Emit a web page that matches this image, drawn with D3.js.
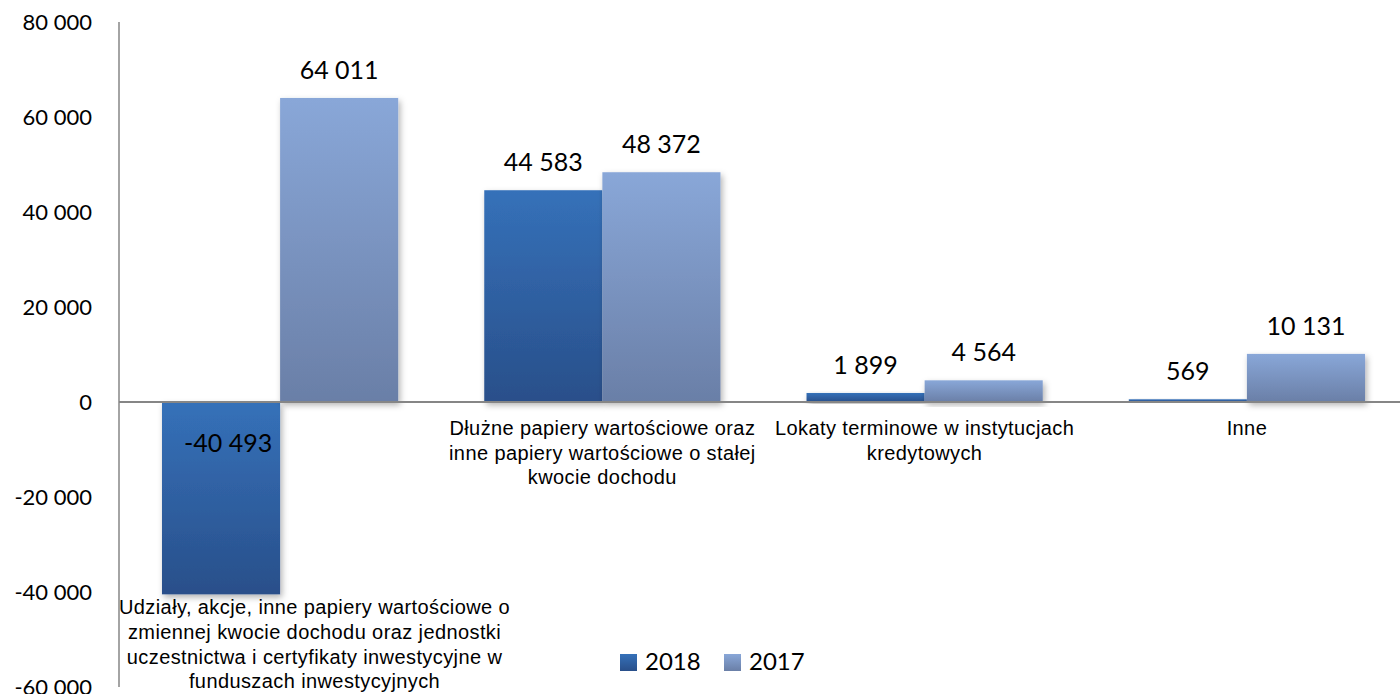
<!DOCTYPE html>
<html>
<head>
<meta charset="utf-8">
<script src="https://cdn.jsdelivr.net/npm/d3@7"></script>
<style>
  html, body { margin: 0; padding: 0; background: #fff; }
  svg { display: block; }
</style>
</head>
<body>
<svg id="chart"></svg>
<script>
/* ------------------ data ------------------ */

const categories = [
  "Udziały, akcje, inne papiery wartościowe o\nzmiennej kwocie dochodu oraz jednostki\nuczestnictwa i certyfikaty inwestycyjne w\nfunduszach inwestycyjnych",
  "Dłużne papiery wartościowe oraz\ninne papiery wartościowe o stałej\nkwocie dochodu",
  "Lokaty terminowe w instytucjach\nkredytowych",
  "Inne"
];
const series = ["2018", "2017"];
const values2018 = [-40493, 44583, 1899, 569];
const values2017 = [64011, 48372, 4564, 10131];
const yTicks = [-60000, -40000, -20000, 0, 20000, 40000, 60000, 80000];

/* ------------------ constants ------------------ */

const WIDTH = 1400;
const HEIGHT = 694;
const AXIS_X = 119;
const PLOT = { top: 22, bottom: 687, right: 1408 };
const COLORS = {
  "2018": ["#3571b9", "#294f8a"],
  "2017": ["#89a7d8", "#6a7fa7"]
};

const locale = d3.formatLocale({
  decimal: ",", thousands: " ", grouping: [3], currency: ["", ""], minus: "-"
});
const fmt = locale.format(",d");

/* ------------------ render ------------------ */

const svg = d3.select("#chart").attr("width", WIDTH).attr("height", HEIGHT);
const defs = svg.append("defs");

series.forEach(s => {
  const g = defs.append("linearGradient")
    .attr("id", "grad" + s)
    .attr("x1", 0).attr("y1", 0).attr("x2", 0).attr("y2", 1);
  g.append("stop").attr("offset", "0%").attr("stop-color", COLORS[s][0]);
  g.append("stop").attr("offset", "100%").attr("stop-color", COLORS[s][1]);
});

defs.append("filter").attr("id", "shadow")
  .attr("x", "-20%").attr("y", "-20%").attr("width", "140%").attr("height", "140%")
  .append("feDropShadow")
  .attr("dx", 2).attr("dy", 3).attr("stdDeviation", 3)
  .attr("flood-color", "#000").attr("flood-opacity", 0.3);

const x = d3.scaleBand()
  .domain(d3.range(categories.length))
  .range([AXIS_X, PLOT.right])
  .paddingInner(0.267)
  .paddingOuter(0.1334);

const xSub = d3.scaleBand()
  .domain(series)
  .range([0, x.bandwidth()]);

const y = d3.scaleLinear()
  .domain([-60000, 80000])
  .range([PLOT.bottom, PLOT.top]);

const rows = categories.map((c, i) => ({
  i, name: c,
  vals: [
    { s: "2018", v: values2018[i] },
    { s: "2017", v: values2017[i] }
  ]
}));

// y axis labels
const yAxis = svg.append("g")
  .attr("transform", `translate(${AXIS_X},0)`)
  .call(d3.axisLeft(y).tickValues(yTicks).tickSize(0).tickPadding(27).tickFormat(fmt));
yAxis.select(".domain").remove();
yAxis.selectAll("text")
  .attr("fill", "#000")
  .style("font-family", "Lato, 'Open Sans', sans-serif")
  .style("font-size", "22px");

// bars
const groups = svg.append("g").selectAll("g")
  .data(rows)
  .join("g")
  .attr("transform", d => `translate(${x(d.i)},0)`);

groups.selectAll("rect")
  .data(d => d.vals)
  .join("rect")
  .attr("x", d => xSub(d.s))
  .attr("y", d => y(Math.max(0, d.v)))
  .attr("width", xSub.bandwidth())
  .attr("height", d => Math.abs(y(d.v) - y(0)))
  .attr("fill", d => `url(#grad${d.s})`)
  .attr("filter", "url(#shadow)");

// value labels
groups.selectAll("text.val")
  .data(d => d.vals)
  .join("text")
  .attr("class", "val")
  .attr("x", d => xSub(d.s) + xSub.bandwidth() / 2 + (d.v < 0 ? 7 : 0))
  .attr("y", d => d.v >= 0 ? y(d.v) - 19 : y(0) + 50)
  .attr("text-anchor", "middle")
  .style("font-family", "Lato, 'Open Sans', sans-serif")
  .style("font-size", "25px")
  .attr("fill", "#000")
  .text(d => fmt(d.v));

// axes lines
svg.append("line")
  .attr("x1", AXIS_X).attr("x2", AXIS_X)
  .attr("y1", y(80000)).attr("y2", y(-60000))
  .attr("stroke", "#868686").attr("stroke-width", 1.5);

svg.append("line")
  .attr("x1", AXIS_X).attr("x2", WIDTH)
  .attr("y1", y(0)).attr("y2", y(0))
  .attr("stroke", "#868686").attr("stroke-width", 2);

// category labels
const catLabels = svg.append("g").selectAll("text")
  .data(rows)
  .join("text")
  .style("font-family", "'Liberation Sans', Arial, sans-serif")
  .style("font-size", "20px")
  .style("letter-spacing", "0.4px")
  .attr("fill", "#000")
  .attr("text-anchor", "middle");

catLabels.each(function(d) {
  const t = d3.select(this);
  const minV = d3.min(d.vals, v => v.v);
  const top = minV < 0 ? y(minV) + 20 : y(0) + 33;
  d.name.split("\n").forEach((line, k) => {
    t.append("tspan")
      .attr("x", 0)
      .attr("y", top + k * 24.7)
      .text(line);
  });
  // keep the block right of the y axis
  const w = this.getBBox().width;
  const cx = Math.max(x(d.i) + x.bandwidth() / 2, AXIS_X + w / 2);
  t.selectAll("tspan").attr("x", cx);
});

// legend
const legend = svg.append("g")
  .attr("transform", "translate(620,654)");
const legendItems = legend.selectAll("g")
  .data(series)
  .join("g")
  .attr("transform", (d, i) => `translate(${i * 104},0)`);
legendItems.append("rect")
  .attr("width", 17).attr("height", 17)
  .attr("fill", d => `url(#grad${d})`);
legendItems.append("text")
  .attr("x", 25).attr("y", 16)
  .style("font-family", "Lato, 'Open Sans', sans-serif")
  .style("font-size", "24px")
  .attr("fill", "#000")
  .text(d => d);
</script>
</body>
</html>
